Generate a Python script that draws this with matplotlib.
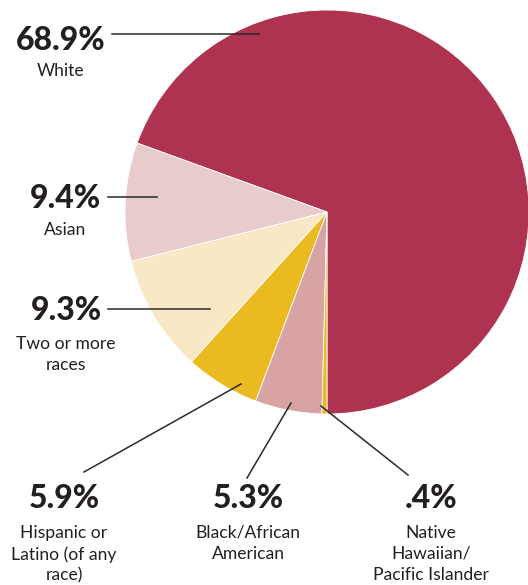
import matplotlib.pyplot as plt

# data
groups = ['White', 'Asian', 'Two or more\nraces', 'Hispanic or\nLatino (of any\nrace)',
          'Black/African\nAmerican', 'Native\nHawaiian/\nPacific Islander']
pct = [68.9, 9.4, 9.3, 5.9, 5.3, 0.4]
pct_labels = ['68.9%', '9.4%', '9.3%', '5.9%', '5.3%', '.4%']
colors = ['#AE3350', '#E8CBCB', '#F8E8C6', '#EBBA21', '#D8A3A3', '#EBBA21']

W, H = 528, 585
fig = plt.figure(figsize=(W / 100, H / 100), dpi=100)
ax = fig.add_axes([0, 0, 1, 1])

def py(y):
    # pixel y (from top) -> data y
    return H - y

ax.pie(pct, colors=colors, startangle=-90, counterclock=True,
       center=(327, py(212)), radius=202,
       wedgeprops=dict(edgecolor='white', linewidth=0.6))
ax.set_xlim(0, W)
ax.set_ylim(0, H)
ax.set_aspect('equal')
ax.axis('off')

txt = '#231F20'
# label anchor: (x center, y of percentage, y of first label line)
label_pos = [(61, 40, 70), (65, 198, 229), (66, 311, 343),
             (64, 499, 532), (248, 499, 532), (431, 499, 532)]
# leader lines (pixel coords)
leaders = [((112, 34), (259, 34)), ((108, 197), (157, 197)), ((108, 309), (210, 309)),
           ((84, 472), (241, 384)), ((247, 478), (291, 403)), ((408, 475), (321, 406))]

for i in range(len(groups)):
    x, yp, yl = label_pos[i]
    ax.text(x, py(yp), pct_labels[i], ha='center', va='center', fontsize=23,
            fontweight='black', family='Lato', color=txt)
    ax.text(x, py(yl) + 7, groups[i], ha='center', va='top', fontsize=12.6,
            family='Lato', color=txt, linespacing=1.38)
    (x0, y0), (x1, y1) = leaders[i]
    ax.plot([x0, x1], [py(y0), py(y1)], color='#2a2a2a', lw=1.1)

fig.savefig('out.png', dpi=100)
